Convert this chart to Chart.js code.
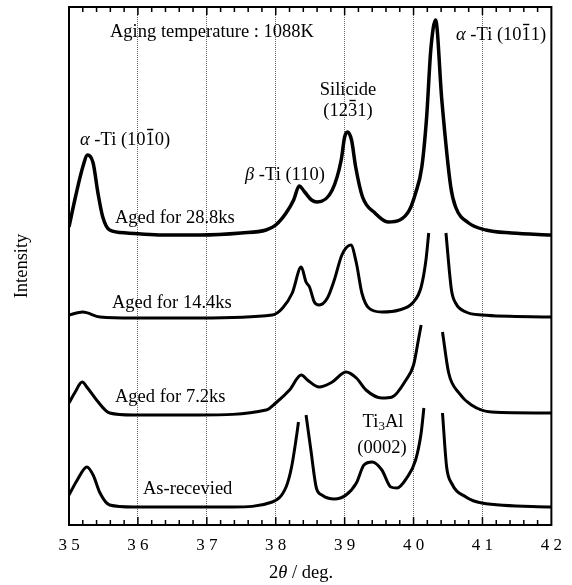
<!DOCTYPE html>
<html>
<head>
<meta charset="utf-8">
<script src="https://cdn.jsdelivr.net/npm/chart.js@4"></script>
<style>
  html, body { margin: 0; padding: 0; background: #fff; }
</style>
</head>
<body>
<canvas id="xrd" width="572" height="585"></canvas>
<script>
// 2theta (deg) and intensity (arb. units, curves stacked)
const theta28 = [35.00, 35.10, 35.20, 35.27, 35.35, 35.42, 35.49, 35.59, 35.84, 36.30, 36.90, 37.50, 37.86, 38.00, 38.15, 38.26, 38.34, 38.42, 38.52, 38.60, 38.82, 38.95, 39.00, 39.04, 39.10, 39.16, 39.26, 39.44, 39.63, 39.80, 39.94, 40.03, 40.12, 40.19, 40.25, 40.32, 40.41, 40.54, 40.61, 40.80, 41.05, 41.42, 42.00];
const aged28 = [298, 330, 358, 370, 362, 332, 308, 295, 292, 290, 290, 292, 295, 300, 312, 325, 339, 333, 325, 323, 335, 365, 388, 393, 385, 358, 328, 312, 303, 305, 315, 332, 358, 408, 475, 505, 425, 338, 318, 302, 295, 292, 290];

const theta14 = [35.00, 35.20, 35.45, 35.93, 36.90, 37.95, 38.10, 38.24, 38.37, 38.44, 38.49, 38.56, 38.63, 38.75, 38.85, 38.96, 39.09, 39.17, 39.25, 39.35, 39.54, 39.79, 40.00, 40.11, 40.18, 40.22, 40.30, 40.47, 40.55, 40.61, 40.76, 40.99, 42.00];
const aged14 = [210, 213, 208, 207, 207, 210, 217, 232, 258, 243, 238, 223, 220, 227, 245, 270, 280, 262, 232, 217, 213, 215, 223, 238, 265, 292, null, 292, 235, 222, 213, 210, 208];

const theta7 = [35.00, 35.09, 35.19, 35.27, 35.40, 35.59, 35.93, 36.89, 37.86, 38.00, 38.20, 38.37, 38.46, 38.63, 38.82, 39.02, 39.17, 39.31, 39.54, 39.69, 39.89, 40.00, 40.07, 40.11, 40.25, 40.42, 40.51, 40.66, 40.84, 41.13, 42.00];
const aged7 = [122, 133, 143, 137, 125, 112, 110, 110, 115, 122, 135, 150, 145, 138, 143, 153, 147, 135, 127, 128, 145, 160, 185, 200, null, 193, 152, 132, 120, 113, 112];

const thetaAR = [35.00, 35.12, 35.26, 35.35, 35.45, 35.59, 35.93, 37.37, 37.95, 38.15, 38.23, 38.30, 38.33, 38.38, 38.44, 38.51, 38.59, 38.67, 38.85, 39.02, 39.17, 39.28, 39.40, 39.54, 39.67, 39.76, 39.90, 40.03, 40.11, 40.15, 40.30, 40.42, 40.48, 40.55, 40.76, 40.99, 42.00];
const asReceived = [30, 45, 58, 50, 32, 20, 18, 18, 23, 38, 58, 88, 103, null, 110, 75, 37, 30, 26, 30, 42, 60, 63, 55, 38, 37, 47, 65, 92, 117, null, 112, 58, 42, 28, 22, 18];

const SERIF = '"Liberation Serif", "Times New Roman", serif';
const FS = 18.5;

function pts(xs, ys) {
  return xs.map((x, i) => ({ x: x, y: ys[i] }));
}

function curve(label, xs, ys, w) {
  return {
    label: label,
    data: pts(xs, ys),
    borderColor: '#000',
    borderWidth: w,
    pointRadius: 0,
    fill: false,
    spanGaps: false,
    cubicInterpolationMode: 'monotone'
  };
}

function fontFor(p) {
  return (p.it ? 'italic ' : '') + (p.sub ? 13 : FS) + 'px ' + SERIF;
}

// draw a run of text pieces (italic greek, overbars, subscripts)
function richText(ctx, parts, x, y, align) {
  let w = 0;
  parts.forEach(p => { ctx.font = fontFor(p); p.w = ctx.measureText(p.t).width; w += p.w; });
  let cx = align === 'center' ? x - w / 2 : x;
  parts.forEach(p => {
    ctx.font = fontFor(p);
    ctx.fillText(p.t, cx, y + (p.sub ? 5 : 0));
    if (p.bar) {
      ctx.beginPath();
      ctx.lineWidth = 1.4;
      ctx.moveTo(cx + 1.5, y - 10.5);
      ctx.lineTo(cx + p.w - 1.5, y - 10.5);
      ctx.stroke();
    }
    cx += p.w;
  });
}

const notes = [
  { x: 110, y: 32, parts: [{ t: 'Aging temperature : 1088K' }] },
  { x: 80, y: 140, parts: [{ t: 'α ', it: true }, { t: '-Ti (10' }, { t: '1', bar: true }, { t: '0)' }] },
  { x: 245, y: 175, parts: [{ t: 'β ', it: true }, { t: '-Ti (110)' }] },
  { x: 348, y: 90, align: 'center', parts: [{ t: 'Silicide' }] },
  { x: 348, y: 111, align: 'center', parts: [{ t: '(12' }, { t: '3', bar: true }, { t: '1)' }] },
  { x: 456, y: 35, parts: [{ t: 'α ', it: true }, { t: '-Ti (10' }, { t: '1', bar: true }, { t: '1)' }] },
  { x: 115, y: 218, parts: [{ t: 'Aged for 28.8ks' }] },
  { x: 112, y: 303, parts: [{ t: 'Aged for 14.4ks' }] },
  { x: 115, y: 397, parts: [{ t: 'Aged for 7.2ks' }] },
  { x: 143, y: 489, parts: [{ t: 'As-recevied' }] },
  { x: 383, y: 422, align: 'center', parts: [{ t: 'Ti' }, { t: '3', sub: true }, { t: 'Al' }] },
  { x: 382, y: 448, align: 'center', parts: [{ t: '(0002)' }] }
];

const decor = {
  id: 'decor',
  afterDraw(chart) {
    const { ctx, chartArea: a, scales: { x } } = chart;
    ctx.save();
    ctx.strokeStyle = '#000';
    ctx.fillStyle = '#000';
    // frame
    ctx.lineWidth = 2;
    ctx.strokeRect(a.left, a.top, a.right - a.left, a.bottom - a.top);
    // inward ticks top and bottom, minor every 0.2
    ctx.lineWidth = 1.5;
    for (let i = 1; i < 35; i++) {
      const px = x.getPixelForValue(35 + i * 0.2);
      const len = i % 5 === 0 ? 8 : 5;
      ctx.beginPath();
      ctx.moveTo(px, a.bottom); ctx.lineTo(px, a.bottom - len);
      ctx.moveTo(px, a.top); ctx.lineTo(px, a.top + len);
      ctx.stroke();
    }
    // annotations
    ctx.textBaseline = 'middle';
    ctx.textAlign = 'left';
    notes.forEach(n => richText(ctx, n.parts, n.x, n.y, n.align));
    // x title
    richText(ctx, [{ t: '2' }, { t: 'θ', it: true }, { t: ' / deg.' }], 301, 573, 'center');
    ctx.restore();
  }
};

new Chart(document.getElementById('xrd'), {
  type: 'line',
  data: {
    datasets: [
      curve('Aged for 28.8ks', theta28, aged28, 3.5),
      curve('Aged for 14.4ks', theta14, aged14, 3),
      curve('Aged for 7.2ks', theta7, aged7, 3),
      curve('As-recevied', thetaAR, asReceived, 3)
    ]
  },
  options: {
    responsive: false,
    animation: false,
    devicePixelRatio: 1,
    layout: { padding: { top: 7, right: 19, left: 0, bottom: 0 } },
    plugins: { legend: { display: false }, tooltip: { enabled: false } },
    scales: {
      x: {
        type: 'linear',
        min: 35,
        max: 42,
        afterFit: s => { s.height = 60; },
        border: { display: false, dash: [1, 1] },
        grid: {
          drawTicks: false,
          lineWidth: 1,
          color: c => (c.tick && (c.tick.value === 35 || c.tick.value === 42)) ? 'rgba(0,0,0,0)' : '#666'
        },
        ticks: {
          stepSize: 1,
          autoSkip: false,
          padding: 10,
          color: '#000',
          font: { family: SERIF, size: 17 },
          callback: v => String(v).split('').join(' ')
        }
      },
      y: {
        min: 0,
        max: 518,
        afterFit: s => { s.width = 69; },
        border: { display: false },
        grid: { display: false },
        ticks: { display: false },
        title: {
          display: true,
          text: 'Intensity',
          color: '#000',
          font: { family: SERIF, size: 18.5 },
          padding: { top: 11, bottom: 0 }
        }
      }
    }
  },
  plugins: [decor]
});
</script>
</body>
</html>
